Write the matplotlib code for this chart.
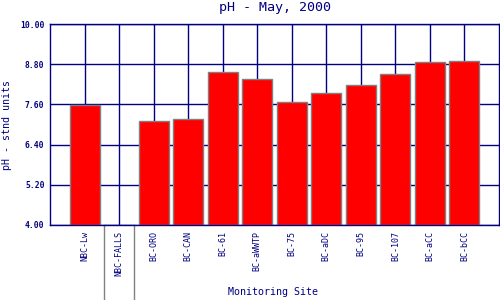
import matplotlib
matplotlib.use("Agg")
import matplotlib.pyplot as plt
import matplotlib.transforms as mtransforms
import numpy as np

sites = ["NBC-Lw", "NBC-FALLS", "BC-ORO", "BC-CAN", "BC-61", "BC-aWWTP", "BC-75",
         "BC-aDC", "BC-95", "BC-107", "BC-aCC", "BC-bCC"]
ph = [7.57, np.nan, 7.10, 7.16, 8.57, 8.35, 7.66, 7.93, 8.17, 8.50, 8.86, 8.89]
yticks = [4.0, 5.2, 6.4, 7.6, 8.8, 10.0]

navy = "#000080"
plt.rcParams["font.family"] = "DejaVu Sans Mono"

fig = plt.figure(figsize=(5, 3), dpi=100)
ax = fig.add_axes([0.1, 0.25, 0.898, 0.67])

x = np.arange(1, len(sites) + 1)
width = 0.87
ax.set_axisbelow(True)
ax.grid(True, color=navy, linewidth=1)
ax.bar(x, np.nan_to_num(ph, nan=0.0) - 4.0, bottom=4.0, width=width,
       color="red", edgecolor="#808080", linewidth=1, zorder=2)

# outline of the missing NBC-FALLS bar below the axis
i = sites.index("NBC-FALLS")
trans = mtransforms.blended_transform_factory(ax.transData, ax.transAxes)
for xe in (x[i] - width / 2, x[i] + width / 2):
    ax.plot([xe, xe], [0, -0.5], transform=trans, color="#808080",
            linewidth=1, clip_on=False)

ax.set_xlim(0, len(sites) + 1)
ax.set_ylim(4.0, 10.0)
ax.set_yticks(yticks)
ax.set_yticklabels([f"{v:.2f}" for v in yticks], fontsize=5.8,
                   fontweight="bold", color=navy)
ax.set_xticks(x)
ax.set_xticklabels(sites, rotation=90, fontsize=6, color=navy,
                   va="top", ha="center")
ax.tick_params(axis="y", length=0, pad=4)
ax.tick_params(axis="x", length=0, pad=4)
for s in ax.spines.values():
    s.set_color(navy)
    s.set_linewidth(1)

fig.suptitle("pH - May, 2000", x=0.55, y=0.995, fontsize=9.6, color=navy,
             va="top")
ax.set_ylabel("pH - stnd units", fontsize=7.2, color=navy, labelpad=6)
fig.text(0.547, 0.01, "Monitoring Site", fontsize=7.2, color=navy,
         ha="center", va="bottom")

fig.savefig("out.png", dpi=100)
